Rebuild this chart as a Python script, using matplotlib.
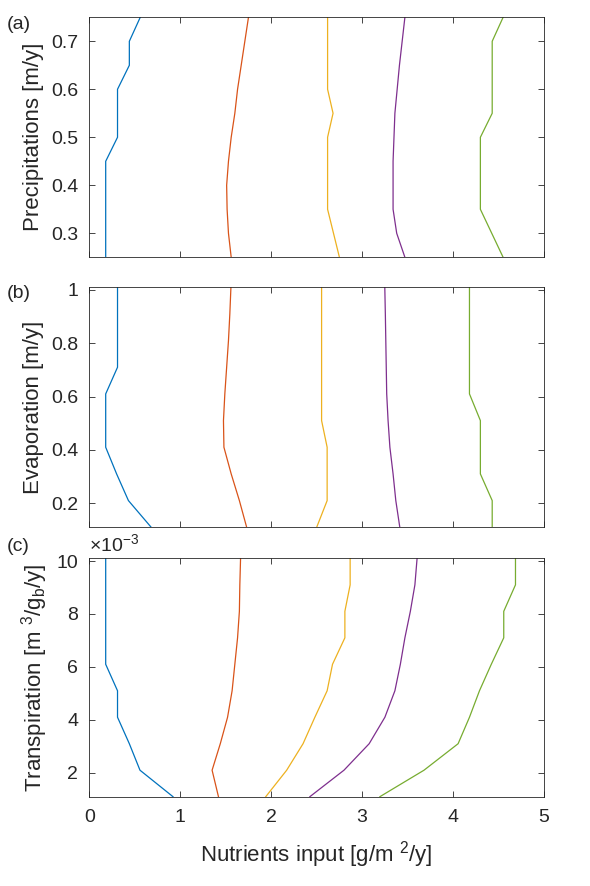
import numpy as np
import matplotlib
matplotlib.use('Agg')
import matplotlib.pyplot as plt
from matplotlib.ticker import FuncFormatter

"""Data read from the figure (contour lines, x = nutrients input)"""
colors = ['#0072BD', '#D95319', '#EDB120', '#7E2F8E', '#77AC30']

# (a) precipitations
prec_blue_y = [0.25, 0.45, 0.50, 0.60, 0.65, 0.70, 0.75]
prec_blue_x = [0.18, 0.18, 0.31, 0.31, 0.44, 0.44, 0.56]
prec_red_y = [0.25, 0.30, 0.35, 0.40, 0.45, 0.50, 0.55, 0.60, 0.65, 0.70, 0.75]
prec_red_x = [1.56, 1.53, 1.515, 1.51, 1.53, 1.56, 1.60, 1.63, 1.67, 1.71, 1.75]
prec_yel_y = [0.25, 0.35, 0.50, 0.55, 0.60, 0.75]
prec_yel_x = [2.75, 2.62, 2.62, 2.68, 2.62, 2.62]
prec_pur_y = [0.25, 0.30, 0.35, 0.45, 0.55, 0.65, 0.75]
prec_pur_x = [3.47, 3.38, 3.34, 3.34, 3.36, 3.41, 3.47]
prec_grn_y = [0.25, 0.35, 0.50, 0.55, 0.70, 0.75]
prec_grn_x = [4.55, 4.30, 4.30, 4.43, 4.43, 4.55]

# (b) evaporation
evap_y = [0.11, 0.21, 0.31, 0.41, 0.51, 0.61, 0.71, 0.81, 0.91, 1.01]
evap_blue_x = [0.68, 0.43, 0.30, 0.18, 0.18, 0.18, 0.31, 0.31, 0.31, 0.31]
evap_red_x = [1.73, 1.65, 1.56, 1.48, 1.475, 1.49, 1.51, 1.53, 1.545, 1.557]
evap_yel_x = [2.50, 2.615, 2.615, 2.615, 2.554, 2.554, 2.554, 2.554, 2.554, 2.554]
evap_pur_x = [3.414, 3.37, 3.34, 3.305, 3.285, 3.27, 3.265, 3.26, 3.255, 3.249]
evap_grn_x = [4.43, 4.43, 4.30, 4.30, 4.30, 4.18, 4.18, 4.18, 4.18, 4.18]

# (c) transpiration
trans_y = np.array([1.1, 2.1, 3.1, 4.1, 5.1, 6.1, 7.1, 8.1, 9.1, 10.1]) * 1e-3
trans_blue_x = [0.92, 0.557, 0.44, 0.31, 0.31, 0.18, 0.18, 0.18, 0.18, 0.18]
trans_red_x = [1.42, 1.35, 1.44, 1.52, 1.57, 1.60, 1.63, 1.65, 1.655, 1.663]
trans_yel_x = [1.94, 2.17, 2.35, 2.48, 2.615, 2.674, 2.81, 2.81, 2.868, 2.868]
trans_pur_x = [2.425, 2.80, 3.077, 3.25, 3.36, 3.42, 3.47, 3.53, 3.58, 3.604]
trans_grn_x = [3.195, 3.68, 4.055, 4.18, 4.29, 4.42, 4.557, 4.557, 4.686, 4.686]

"""Visualization"""
plt.rcParams['font.family'] = ['Liberation Sans', 'DejaVu Sans']
plt.rcParams['mathtext.default'] = 'regular'
tick_fs = 14
lab_fs = 16
ax_col = '#262626'

fig = plt.figure(figsize=(5.9, 8.86), dpi=100)
left, width = 0.1514, 0.7707
ax_a = fig.add_axes([left, 0.7096, width, 0.2709])
ax_b = fig.add_axes([left, 0.4049, width, 0.2709])
ax_c = fig.add_axes([left, 0.1008, width, 0.2690])

lw = 0.9
ax_a.plot(prec_blue_x, prec_blue_y, c=colors[0], lw=lw)
ax_a.plot(prec_red_x, prec_red_y, c=colors[1], lw=lw)
ax_a.plot(prec_yel_x, prec_yel_y, c=colors[2], lw=lw)
ax_a.plot(prec_pur_x, prec_pur_y, c=colors[3], lw=lw)
ax_a.plot(prec_grn_x, prec_grn_y, c=colors[4], lw=lw)

for xs, c in zip([evap_blue_x, evap_red_x, evap_yel_x, evap_pur_x, evap_grn_x], colors):
    ax_b.plot(xs, evap_y, c=c, lw=lw)

for xs, c in zip([trans_blue_x, trans_red_x, trans_yel_x, trans_pur_x, trans_grn_x], colors):
    ax_c.plot(xs, trans_y, c=c, lw=lw)

ax_a.set_ylim(0.25, 0.75)
ax_a.set_yticks([0.3, 0.4, 0.5, 0.6, 0.7])
ax_b.set_ylim(0.11, 1.01)
ax_b.set_yticks([0.2, 0.4, 0.6, 0.8, 1.0])
ax_b.set_yticklabels(['0.2', '0.4', '0.6', '0.8', '1'])
ax_c.set_ylim(1.1e-3, 10.1e-3)
ax_c.set_yticks(np.array([2, 4, 6, 8, 10]) * 1e-3)
ax_c.yaxis.set_major_formatter(FuncFormatter(lambda v, p: '%g' % round(v * 1e3, 6)))
ax_c.text(0.0, 1.012, r'$\times$10$^{-3}$', transform=ax_c.transAxes,
          ha='left', va='bottom', fontsize=tick_fs, color=ax_col)

for ax in (ax_a, ax_b, ax_c):
    ax.set_xlim(0, 5)
    ax.set_xticks([0, 1, 2, 3, 4, 5])
    ax.tick_params(direction='in', top=True, right=True, length=4.5,
                   width=0.6, colors=ax_col, labelcolor=ax_col, labelsize=tick_fs)
    ax.tick_params(axis='y', pad=8)
    ax.tick_params(axis='x', pad=9)
    for s in ax.spines.values():
        s.set_color(ax_col)
        s.set_linewidth(0.6)
ax_a.tick_params(labelbottom=False)
ax_b.tick_params(labelbottom=False)

ax_a.set_ylabel('Precipitations [m/y]', color=ax_col, fontsize=lab_fs, labelpad=5)
ax_b.set_ylabel('Evaporation [m/y]', color=ax_col, fontsize=lab_fs, labelpad=5)
ax_c.set_ylabel('Transpiration [m $^{3}$/g$_{b}$/y]', color=ax_col, fontsize=lab_fs, labelpad=5)
ax_c.set_xlabel('Nutrients input [g/m $^{2}$/y]', color=ax_col, fontsize=lab_fs, labelpad=9)

fig.text(0.012, 0.972, '(a)', fontsize=tick_fs, color=ax_col, va='center')
fig.text(0.012, 0.669, '(b)', fontsize=tick_fs, color=ax_col, va='center')
fig.text(0.012, 0.383, '(c)', fontsize=tick_fs, color=ax_col, va='center')

fig.savefig('out.png', dpi=100)
